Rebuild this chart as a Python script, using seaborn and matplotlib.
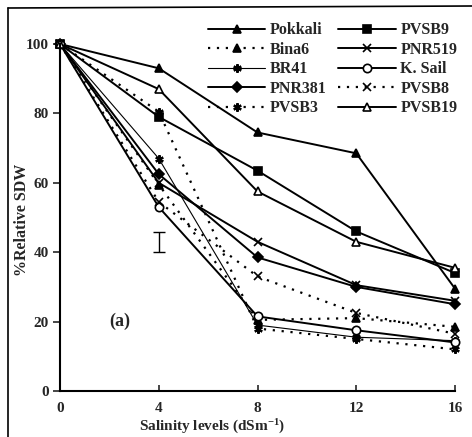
import matplotlib
matplotlib.use("Agg")
import matplotlib.pyplot as plt
import seaborn as sns
import pandas as pd
from matplotlib.lines import Line2D

sns.set_style("ticks")
plt.rcParams['font.family'] = ['Liberation Serif', 'DejaVu Serif']
plt.rcParams['font.weight'] = 'bold'
plt.rcParams['mathtext.fontset'] = 'custom'
plt.rcParams['mathtext.rm'] = 'Liberation Serif:bold'
plt.rcParams['mathtext.it'] = 'Liberation Serif:bold'
plt.rcParams['mathtext.bf'] = 'Liberation Serif:bold'

salinity = [0, 4, 8, 12, 16]
x_ticks = [0, 4, 8, 12, 16]
y_ticks = [0, 20, 40, 60, 80, 100]

pokkali = [100, 93, 74.5, 68.5, 29.5]
bina6 = [100, 59.5, 20.5, 21, 18.5]
br41 = [100, 67, 19, 15.5, 14.5]
pnr381 = [100, 62.5, 38.5, 30, 25]
pvsb3 = [100, 80.5, 18, 15, 12]
pvsb9 = [100, 79, 63.5, 46, 34]
pnr519 = [100, 60, 43, 30.5, 26]
ksail = [100, 53, 21.5, 17.5, 14]
pvsb8 = [100, 54.5, 33, 22.5, 16.5]
pvsb19 = [100, 87, 57.5, 43, 35.5]

err_x = [4]
err_y = [43]
err_half = [2.8]

series = [
    ("Pokkali", pokkali, '-', '^', 'black', 1.4),
    ("Bina6", bina6, (0, (1, 3)), '^', 'black', 1.6),
    ("BR41", br41, '-', (6, 2, 0), 'black', 0.8),
    ("PNR381", pnr381, '-', 'D', 'black', 1.4),
    ("PVSB3", pvsb3, (0, (1, 3)), (6, 2, 0), 'black', 1.6),
    ("PVSB9", pvsb9, '-', 's', 'black', 1.4),
    ("PNR519", pnr519, '-', 'x', 'black', 1.4),
    ("K. Sail", ksail, '-', 'o', 'white', 1.4),
    ("PVSB8", pvsb8, (0, (1, 3)), 'x', 'black', 1.6),
    ("PVSB19", pvsb19, '-', '^', 'white', 1.4),
]

fig = plt.figure(figsize=(4.72, 4.37), dpi=100)
ax = fig.add_axes([60/472, 1-391/437, (455-60)/472, (391-44)/437])

handles = []
for name, vals, ls, mk, fc, lw in series:
    df = pd.DataFrame({"x": salinity, "y": vals})
    ms = 6 if mk not in ('D',) else 5
    mew = 1.6 if isinstance(mk, tuple) else 1.2
    sns.lineplot(data=df, x="x", y="y", ax=ax, color='black', linestyle=ls,
                 linewidth=lw, marker=mk, markersize=ms, markerfacecolor=fc,
                 markeredgecolor='black', markeredgewidth=mew, clip_on=False,
                 legend=False)
    handles.append(Line2D([], [], color='black', linestyle=ls, linewidth=lw,
                          marker=mk, markersize=ms, markerfacecolor=fc,
                          markeredgecolor='black', markeredgewidth=mew,
                          label=name))

ax.errorbar(err_x, err_y, yerr=err_half, fmt='none', ecolor='black',
            elinewidth=1.0, capsize=4, capthick=1.0)

ax.set_xlim(0, 16)
ax.set_ylim(0, 100)
ax.set_xticks(x_ticks)
ax.set_yticks(y_ticks)
ax.set_xlabel("")
ax.set_ylabel("")
sns.despine(ax=ax)
for s in ['left', 'bottom']:
    ax.spines[s].set_linewidth(1.5)
    ax.spines[s].set_color('black')
ax.tick_params(axis='y', direction='out', length=5, width=1.2, labelsize=11, pad=3)
ax.tick_params(axis='x', direction='in', length=4, width=1.2, labelsize=11, pad=8)
for lab in ax.get_xticklabels() + ax.get_yticklabels():
    lab.set_fontweight('bold')

ax.text(2.4, 20, "(a)", fontsize=13, fontweight='bold', ha='center', va='center')

fig.text(212/472, 1-427/437, r"Salinity levels (dSm$^{-1}$)", fontsize=11,
         fontweight='bold', ha='center', va='center')
fig.text(22/472, 1-220/437, "%Relative SDW", fontsize=11.5, fontweight='bold',
         rotation=90, ha='center', va='center')

leg = fig.legend(handles=handles, ncol=2, loc='upper right',
                 bbox_to_anchor=(1.0, 1-8/437), frameon=False,
                 handlelength=3.6, handletextpad=0.3, columnspacing=0.7,
                 labelspacing=0.22, prop={'family': 'Liberation Serif',
                                          'weight': 'bold', 'size': 11.5})

fig.add_artist(Line2D([8/472, 8/472], [0, 1-8/437], transform=fig.transFigure,
                      color='black', linewidth=1.2))
fig.add_artist(Line2D([8/472, 1], [1-8/437, 1-6/437], transform=fig.transFigure,
                      color='black', linewidth=1.2))

fig.savefig("out.png", dpi=100)
